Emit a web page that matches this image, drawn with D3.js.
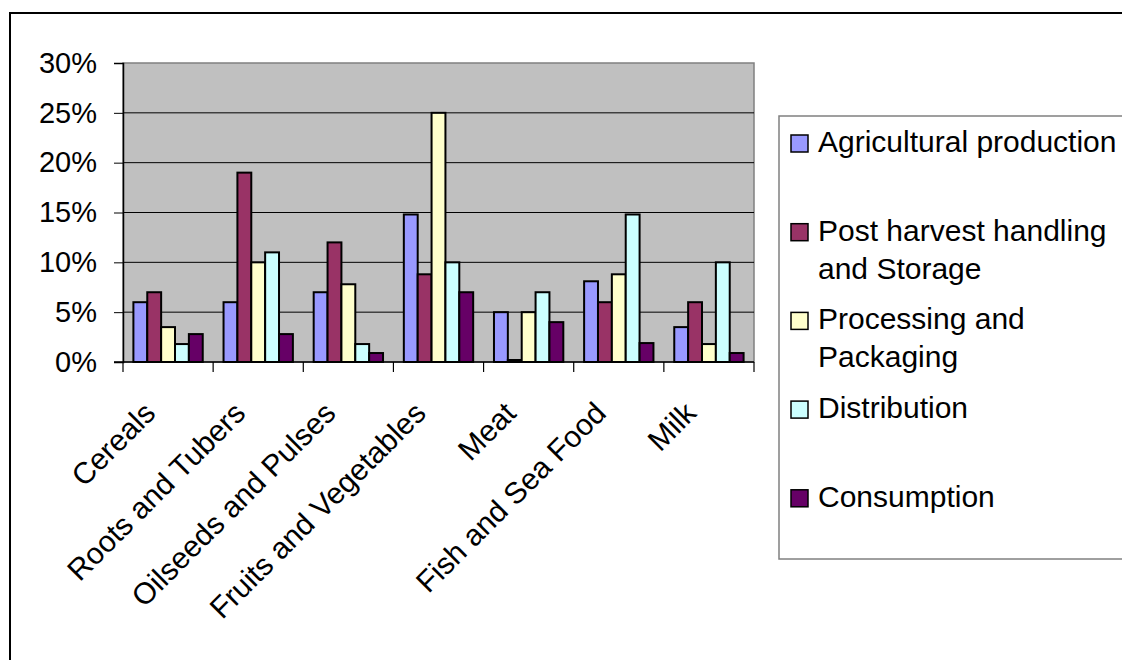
<!DOCTYPE html>
<head>
  <meta charset="utf-8">
  <script src="https://d3js.org/d3.v7.min.js"></script>
  <style>
    body { margin:0; background:#fff; }
    text { font-family: "Liberation Sans", Arial, sans-serif; fill:#000; }
  </style>
</head>

<body>
  <script>
  // ---------- data ----------
    var categories = ["Cereals", "Roots and Tubers", "Oilseeds and Pulses", "Fruits and Vegetables",
                      "Meat", "Fish and Sea Food", "Milk"];
    var series = ["Agricultural production", "Post harvest handling and Storage",
                  "Processing and Packaging", "Distribution", "Consumption"];
    // legend lines, as wrapped in the picture
    var legendLines = [["Agricultural production"], ["Post harvest handling", "and Storage"],
                       ["Processing and", "Packaging"], ["Distribution"], ["Consumption"]];
    var colors = ["#9999FF", "#993366", "#FFFFCC", "#CCFFFF", "#660066"];

    // one array per series, in category order (fractions)
    var agricultural = [0.06, 0.06, 0.07, 0.148, 0.05, 0.081, 0.035];
    var postHarvest  = [0.07, 0.19, 0.12, 0.088, 0.002, 0.06, 0.06];
    var processing   = [0.035, 0.10, 0.078, 0.25, 0.05, 0.088, 0.018];
    var distribution = [0.018, 0.11, 0.018, 0.10, 0.07, 0.148, 0.10];
    var consumption  = [0.028, 0.028, 0.009, 0.07, 0.04, 0.019, 0.009];
    var values = [agricultural, postHarvest, processing, distribution, consumption];

    var yTicks = [0, 0.05, 0.10, 0.15, 0.20, 0.25, 0.30];

  // ---------- svg ----------
    var svg = d3.select("body").append("svg")
      .attr("width", 1122)
      .attr("height", 660);

    // outer chart frame (runs off right and bottom)
    svg.append("rect")
      .attr("x", 10).attr("y", 13)
      .attr("width", 1200).attr("height", 700)
      .attr("fill", "#fff").attr("stroke", "#000").attr("stroke-width", 2);

    var plot = { left: 123, right: 754, top: 63, bottom: 362 };

    var x0 = d3.scaleBand().domain(categories).range([plot.left, plot.right]);
    var x1 = d3.scaleBand().domain(series).range([0, x0.bandwidth()])
      .paddingInner(0).paddingOuter(0.75);
    var y = d3.scaleLinear().domain([0, 0.30]).range([plot.bottom, plot.top]);

    // plot background
    svg.append("rect")
      .attr("x", plot.left).attr("y", plot.top)
      .attr("width", plot.right - plot.left).attr("height", plot.bottom - plot.top)
      .attr("fill", "#C0C0C0").attr("stroke", "#808080").attr("stroke-width", 1.5);

    // gridlines
    svg.append("g").selectAll("line")
      .data(yTicks.slice(1, -1))
      .enter().append("line")
      .attr("x1", plot.left).attr("x2", plot.right)
      .attr("y1", d => y(d)).attr("y2", d => y(d))
      .attr("stroke", "#000").attr("stroke-width", 1);

    // bars
    var groups = svg.append("g").selectAll("g")
      .data(categories)
      .enter().append("g")
      .attr("transform", d => "translate(" + x0(d) + ",0)");

    groups.selectAll("rect")
      .data((c, ci) => series.map((s, si) => ({ s: s, si: si, v: values[si][ci] })))
      .enter().append("rect")
      .attr("x", d => x1(d.s))
      .attr("width", x1.bandwidth())
      .attr("y", d => y(d.v))
      .attr("height", d => y(0) - y(d.v))
      .attr("fill", d => colors[d.si])
      .attr("stroke", "#000").attr("stroke-width", 2);

    // y axis
    var yAxis = svg.append("g")
      .attr("transform", "translate(" + plot.left + ",0)")
      .call(d3.axisLeft(y).tickValues(yTicks).tickFormat(d3.format(".0%")).tickSize(9).tickPadding(17));
    yAxis.select(".domain").attr("stroke", "#000").attr("stroke-width", 1.5);
    yAxis.selectAll(".tick line").attr("stroke", "#000");
    yAxis.selectAll("text").style("font-size", "29px").attr("fill", "#000")
      .attr("font-family", "Liberation Sans, Arial, sans-serif");

    // x axis line and tick marks at category boundaries
    svg.append("line")
      .attr("x1", plot.left - 9).attr("x2", plot.right)
      .attr("y1", plot.bottom).attr("y2", plot.bottom)
      .attr("stroke", "#000").attr("stroke-width", 1.5);
    var bounds = categories.map(c => x0(c)).concat([plot.right]);
    svg.append("g").selectAll("line")
      .data(bounds)
      .enter().append("line")
      .attr("x1", d => d).attr("x2", d => d)
      .attr("y1", plot.bottom).attr("y2", plot.bottom + 10)
      .attr("stroke", "#000").attr("stroke-width", 1.2);

    // rotated category labels
    svg.append("g").selectAll("text")
      .data(categories)
      .enter().append("text")
      .attr("text-anchor", "end")
      .style("font-size", "30px")
      .attr("transform", d => "translate(" + (x0(d) + x0.bandwidth() / 2 - 11) + ",415) rotate(-45)")
      .text(d => d);

    // legend
    var legend = svg.append("g");
    legend.append("rect")
      .attr("x", 779).attr("y", 116)
      .attr("width", 400).attr("height", 443)
      .attr("fill", "#fff").attr("stroke", "#808080").attr("stroke-width", 1.5);

    var items = legend.selectAll("g.item")
      .data(series)
      .enter().append("g")
      .attr("class", "item")
      .attr("transform", (d, i) => "translate(791," + (143.5 + i * 88.7) + ")");

    items.append("rect")
      .attr("x", 0).attr("y", -8.5)
      .attr("width", 17).attr("height", 17)
      .attr("fill", (d, i) => colors[i])
      .attr("stroke", "#000").attr("stroke-width", 1.5);

    items.append("text")
      .style("font-size", "30px")
      .attr("x", 27).attr("y", 8.5)
      .selectAll("tspan")
      .data((d, i) => legendLines[i])
      .enter().append("tspan")
      .attr("x", 27)
      .attr("dy", (d, j) => j === 0 ? 0 : 38)
      .text(d => d);
  </script>
</body>
